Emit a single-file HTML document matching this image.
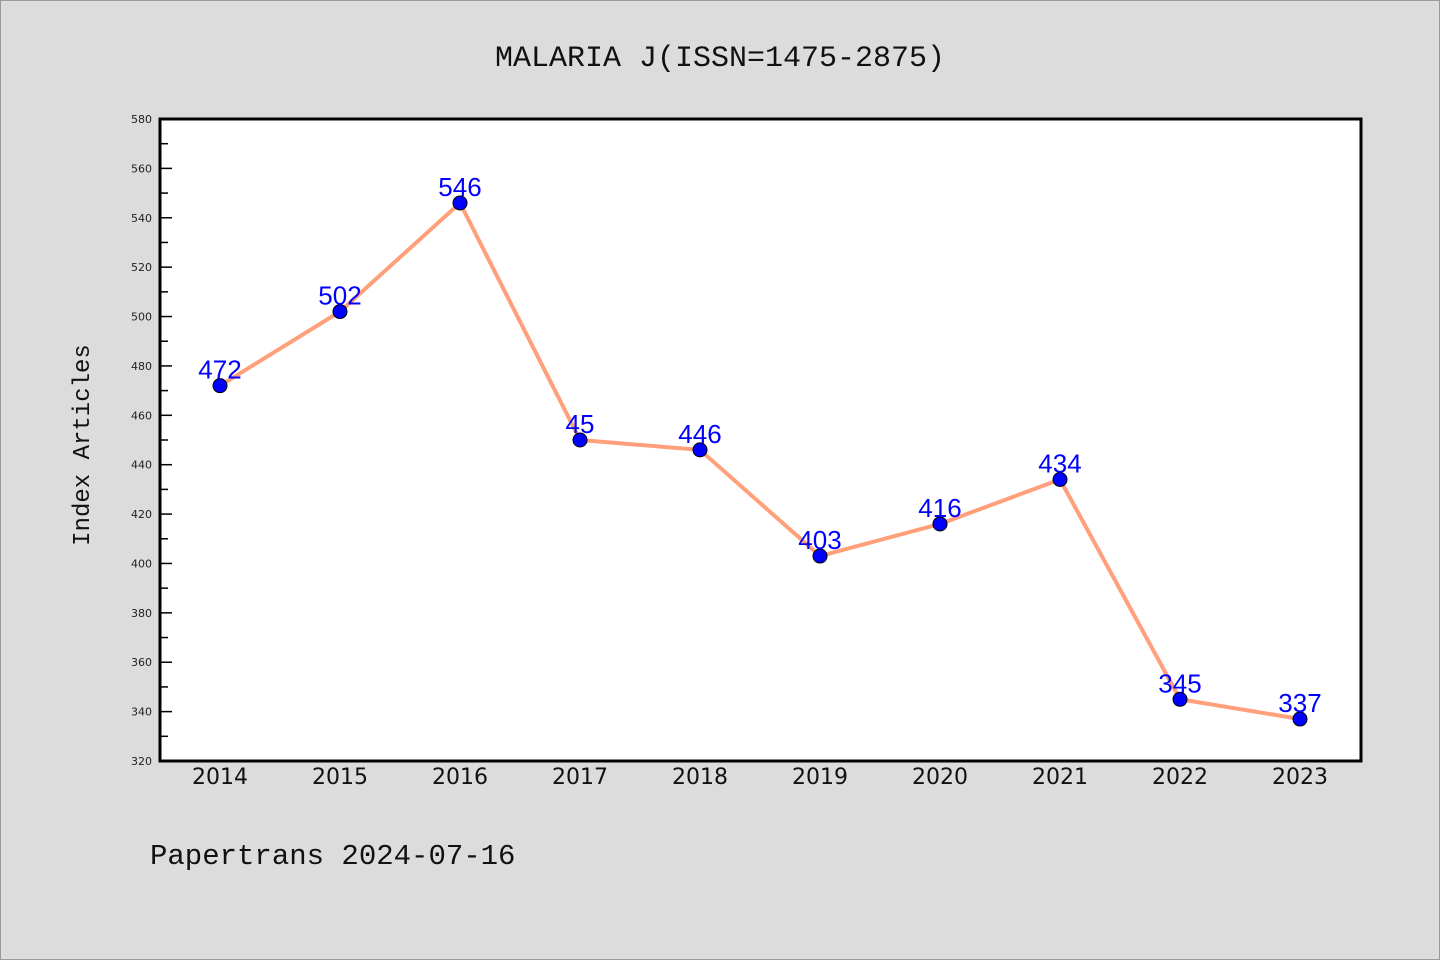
<!DOCTYPE html>
<html><head><meta charset="utf-8"><style>
body{margin:0;background:#dcdcdc;}
svg{display:block}
</style></head><body>
<svg id="chart" width="1440" height="960" xmlns="http://www.w3.org/2000/svg">
<rect x="0.5" y="0.5" width="1439" height="959" fill="#dcdcdc" stroke="#999"/>
<text x="720" y="66" text-anchor="middle" font-family="Liberation Mono, monospace" font-size="30" fill="#111">MALARIA J(ISSN=1475-2875)</text>
<text transform="translate(89,445) rotate(-90)" text-anchor="middle" font-family="Liberation Mono, monospace" font-size="24" fill="#111">Index Articles</text>
<text x="150" y="864" font-family="Liberation Mono, monospace" font-size="29" fill="#111">Papertrans 2024-07-16</text>
<rect x="160" y="119" width="1201" height="642" fill="#fff" stroke="#000" stroke-width="3"/>
<g id="axes"></g>
<g id="marks"></g>
</svg>
<script>
const years = ["2014","2015","2016","2017","2018","2019","2020","2021","2022","2023"];
const values = [472,502,546,450,446,403,416,434,345,337];
const valueLabels = ["472","502","546","45","446","403","416","434","345","337"];
const yTicks = [320,340,360,380,400,420,440,460,480,500,520,540,560,580];
const NS="http://www.w3.org/2000/svg";
const X0=160,X1=1361,Y0=761,Y1=119,yMin=320,yMax=580;
const x=i=>220+i*120;
const y=v=>Y0-(v-yMin)/(yMax-yMin)*(Y0-Y1);
function mk(tag,attrs,parent){const e=document.createElementNS(NS,tag);for(const k in attrs)e.setAttribute(k,attrs[k]);parent.appendChild(e);return e;}
const axes=document.getElementById('axes'),marks=document.getElementById('marks');
yTicks.forEach((t,i)=>{
  const tk=mk('line',{x1:X0,x2:X0+12,y1:y(t),y2:y(t),stroke:'#000','stroke-width':1.5},axes);
  
  
  const lb=mk('text',{x:152,y:y(t)+4,'text-anchor':'end','font-family':'DejaVu Sans, sans-serif','font-size':11,fill:'#222'},axes);
  lb.textContent=t;
  
  
  if(i<yTicks.length-1){
    const m=mk('line',{x1:X0,x2:X0+8,y1:y(t+10),y2:y(t+10),stroke:'#000','stroke-width':1.5},axes);
    
    
  }
});
years.forEach((yr,i)=>{
  const lb=mk('text',{x:x(i),y:784,'text-anchor':'middle','font-family':'DejaVu Sans, sans-serif','font-size':22,fill:'#111'},axes);
  lb.textContent=yr;
  
  
});
const line=mk('polyline',{points:values.map((v,i)=>x(i)+','+y(v)).join(' '),fill:'none',stroke:'#ffa07a','stroke-width':4},marks);


values.forEach((v,i)=>{
  const c=mk('circle',{cx:x(i),cy:y(v),r:7,fill:'#0000ff',stroke:'#000','stroke-width':1},marks);
  
  
  const t=mk('text',{x:x(i),y:y(v)-7,'text-anchor':'middle','font-family':'Liberation Sans, sans-serif','font-size':26,fill:'#0000ff'},marks);
  t.textContent=valueLabels[i];
  
  
});
</script>
</body></html>
